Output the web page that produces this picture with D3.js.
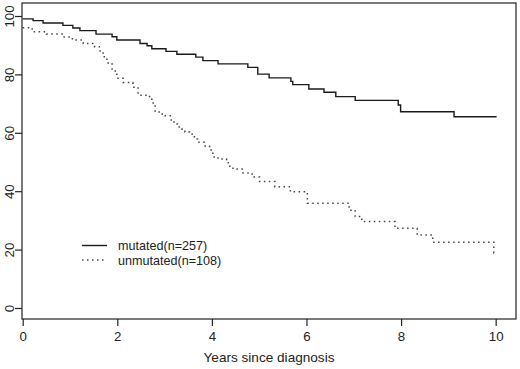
<!DOCTYPE html>
<html>
<head>
<meta charset="utf-8">
<script src="https://cdn.jsdelivr.net/npm/d3@7/dist/d3.min.js"></script>
<style>
  html, body { margin: 0; padding: 0; background: #fff; }
  svg { display: block; }
  text { font-family: "Liberation Sans", Arial, sans-serif; fill: #222; }
</style>
</head>
<body>
<svg id="chart" width="520" height="369"></svg>
<script>
// ---- data ----
const xTicks = [0, 2, 4, 6, 8, 10];
const yTicks = [0, 20, 40, 60, 80, 100];
const xLabel = "Years since diagnosis";
const seriesNames = ["mutated(n=257)", "unmutated(n=108)"];

const mutatedTimes = [0, 0.22, 0.43, 0.85, 1.06, 1.21, 1.55, 1.89, 1.99, 2.48, 2.63, 2.73, 3.03, 3.26, 3.66, 3.81, 4.13, 4.76, 4.97, 5.21, 5.67, 5.71, 6.05, 6.37, 6.62, 7.03, 7.94, 7.99, 9.12];
const mutatedSurv  = [99, 98.4, 97.6, 96.8, 95.9, 95, 93.8, 92.9, 91.8, 90.6, 89.8, 88.8, 87.9, 86.9, 85.9, 84.7, 83.6, 82.4, 80.1, 78.8, 77.6, 76.5, 75, 73.9, 72.4, 71.1, 69.5, 67.2, 65.5];
const mutatedEnd = 10.02;

const unmutatedTimes = [0, 0.2, 0.5, 0.85, 1.05, 1.28, 1.52, 1.62, 1.70, 1.78, 1.89, 1.99, 2.12, 2.33, 2.44, 2.63, 2.73, 2.80, 2.95, 3.14, 3.20, 3.27, 3.36, 3.43, 3.53, 3.63, 3.70, 3.84, 3.95, 4.02, 4.13, 4.31, 4.38, 4.53, 4.64, 4.85, 5.01, 5.33, 5.66, 6.02, 6.90, 7.03, 7.17, 7.87, 8.34, 8.67, 9.96];
const unmutatedSurv  = [96, 94.6, 93.8, 92.8, 91.8, 90.6, 89.5, 88, 86, 83.9, 81.2, 78.7, 77.2, 75.6, 72.9, 72.4, 70.2, 67.1, 65.8, 64, 63, 62, 61.3, 60.3, 59.6, 57.9, 56.8, 55.5, 54.1, 51.7, 51, 49.7, 47.9, 47.6, 46.2, 44.9, 43.3, 41.5, 39.8, 35.9, 33.5, 31.3, 29.6, 27.3, 25, 22.5, 18.9];
const unmutatedEnd = 9.99;

// ---- layout ----
const box = { left: 22, right: 516, top: 3, bottom: 319 };
const svg = d3.select("#chart");

const x = d3.scaleLinear().domain([-0.015, 10.43]).range([box.left, box.right]);
const y = d3.scaleLinear().domain([-3.77, 104.45]).range([box.bottom, box.top]);

// frame
svg.append("rect")
  .attr("x", box.left).attr("y", box.top)
  .attr("width", box.right - box.left).attr("height", box.bottom - box.top)
  .attr("fill", "none").attr("stroke", "#222").attr("stroke-width", 1.2);

// x axis
const xAxis = d3.axisBottom(x).tickValues(xTicks).tickFormat(d3.format("d")).tickSize(7).tickPadding(6);
const gx = svg.append("g").attr("transform", `translate(0,${box.bottom})`).call(xAxis);
gx.select(".domain").remove();
gx.selectAll("line").attr("stroke", "#222").attr("stroke-width", 1.2);
gx.selectAll("text").attr("font-size", 13.3).attr("fill", "#222")
  .attr("font-family", "Liberation Sans, Arial, sans-serif");

// y axis
const yAxis = d3.axisLeft(y).tickValues(yTicks).tickFormat(d3.format("d")).tickSize(7);
const gy = svg.append("g").attr("transform", `translate(${box.left},0)`).call(yAxis);
gy.select(".domain").remove();
gy.selectAll("line").attr("stroke", "#222").attr("stroke-width", 1.2);
gy.selectAll("text")
  .attr("font-size", 13.3).attr("fill", "#222")
  .attr("font-family", "Liberation Sans, Arial, sans-serif")
  .attr("x", null).attr("dy", null)
  .attr("text-anchor", "middle")
  .attr("transform", "translate(-8,0) rotate(-90)");

// x label
svg.append("text")
  .attr("x", (box.left + box.right) / 2).attr("y", 362)
  .attr("text-anchor", "middle").attr("font-size", 13.6)
  .text(xLabel);

// curves
function stepData(times, vals, end) {
  const pts = d3.zip(times, vals);
  pts.push([end, vals[vals.length - 1]]);
  return pts;
}
const line = d3.line().x(d => x(d[0])).y(d => y(d[1])).curve(d3.curveStepAfter);

svg.append("path")
  .datum(stepData(mutatedTimes, mutatedSurv, mutatedEnd))
  .attr("d", line).attr("fill", "none")
  .attr("stroke", "#1a1a1a").attr("stroke-width", 1.4);

svg.append("path")
  .datum(stepData(unmutatedTimes, unmutatedSurv, unmutatedEnd))
  .attr("d", line).attr("fill", "none")
  .attr("stroke", "#444").attr("stroke-width", 1.5)
  .attr("stroke-dasharray", "1.5,3.5");

// legend
const legend = svg.append("g");
const legRows = [
  { name: seriesNames[0], dash: null, color: "#1a1a1a", ly: 245.5, ty: 250 },
  { name: seriesNames[1], dash: "1.5,3.5", color: "#444", ly: 260, ty: 264.5 }
];
legRows.forEach(r => {
  legend.append("line")
    .attr("x1", 82).attr("x2", 107).attr("y1", r.ly).attr("y2", r.ly)
    .attr("stroke", r.color).attr("stroke-width", 1.4)
    .attr("stroke-dasharray", r.dash);
  legend.append("text")
    .attr("x", 118).attr("y", r.ty).attr("font-size", 12.6)
    .text(r.name);
});
</script>
</body>
</html>
